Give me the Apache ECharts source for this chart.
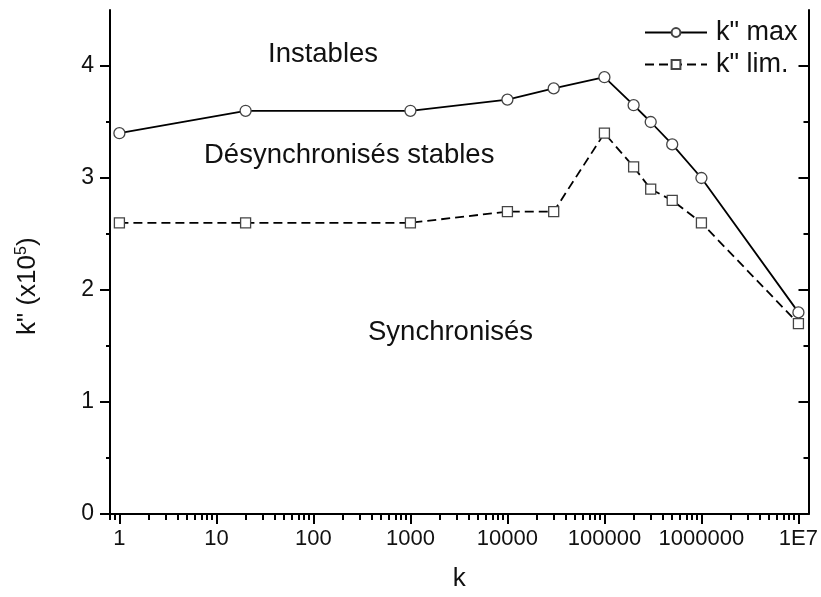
<!DOCTYPE html>
<html>
<head>
<meta charset="utf-8">
<script src="https://cdn.jsdelivr.net/npm/echarts@6/dist/echarts.min.js"></script>
<style>
  html, body { margin: 0; padding: 0; background: #fff; }
  #chart { width: 821px; height: 597px; }
</style>
</head>
<body>
<div id="chart"></div>
<script>
// k values (log scale) and the two k'' thresholds (units of 1e5)
const kValues = [1, 20, 1000, 10000, 30000, 100000, 200000, 300000, 500000, 1000000, 10000000];
const kMax    = [3.4, 3.6, 3.6, 3.7, 3.8, 3.9, 3.65, 3.5, 3.3, 3.0, 1.8];
const kLim    = [2.6, 2.6, 2.6, 2.7, 2.7, 3.4, 3.1, 2.9, 2.8, 2.6, 1.7];

// tick positions
const xMajorTicks = [1, 10, 100, 1000, 10000, 100000, 1000000, 10000000];
const xMinorTicks = [];
for (let d = -1; d <= 7; d++) {
  for (let m = 2; m <= 9; m++) {
    const v = m * Math.pow(10, d);
    if (v >= 0.8 && v <= 1.27e7) xMinorTicks.push(v);
  }
}
const yMajorTicks = [0, 1, 2, 3, 4];
const yMinorTicks = [0.5, 1.5, 2.5, 3.5];

const X_MIN = 0.8, X_MAX = 1.27e7, Y_MIN = 0, Y_MAX = 4.5;
const FONT = 'Liberation Sans, Arial, sans-serif';
const INK = '#000';

function xAxisDef(pos, ticks, len, inside, showLine, showLabel) {
  return {
    type: 'log', logBase: 10, position: pos, min: X_MIN, max: X_MAX,
    axisLine: { show: showLine, lineStyle: { color: INK, width: 2 } },
    axisTick: { show: true, customValues: ticks, length: len, inside: inside,
                lineStyle: { color: INK, width: 2 } },
    axisLabel: showLabel ? {
      customValues: xMajorTicks, margin: 14, color: '#111', fontFamily: FONT, fontSize: 22,
      formatter: v => { const r = Math.round(v); return r >= 1e7 ? '1E7' : String(r); }
    } : { show: false },
    splitLine: { show: false }, minorTick: { show: false }
  };
}
function yAxisDef(pos, ticks, len, inside, showLine, showLabel) {
  return {
    type: 'value', position: pos, min: Y_MIN, max: Y_MAX,
    axisLine: { show: showLine, lineStyle: { color: INK, width: 2 } },
    axisTick: { show: true, customValues: ticks, length: len, inside: inside,
                lineStyle: { color: INK, width: 2 } },
    axisLabel: showLabel ? {
      customValues: yMajorTicks, margin: 16, color: '#111', fontFamily: FONT, fontSize: 23
    } : { show: false },
    splitLine: { show: false }
  };
}

const chart = echarts.init(document.getElementById('chart'), null, { renderer: 'canvas' });

const option = {
  animation: false,
  backgroundColor: '#fff',
  grid: { left: 110, right: 8, top: 10, bottom: 81, containLabel: false },
  xAxis: [
    Object.assign(xAxisDef('bottom', xMajorTicks, 10, false, true, true), {
      name: 'k', nameLocation: 'middle', nameGap: 52,
      nameTextStyle: { color: '#111', fontFamily: FONT, fontSize: 26 }
    }),
    xAxisDef('bottom', xMinorTicks, 6, false, false, false),
    xAxisDef('top', xMajorTicks, 10, true, true, false),
    xAxisDef('top', xMinorTicks, 6, true, false, false)
  ],
  yAxis: [
    yAxisDef('left', yMajorTicks, 10, false, true, true),
    yAxisDef('left', yMinorTicks, 4, false, false, false),
    yAxisDef('right', yMajorTicks, 10, true, true, false),
    yAxisDef('right', yMinorTicks, 5, true, false, false)
  ],
  legend: {
    orient: 'vertical', left: 639, top: 14, itemWidth: 62, itemHeight: 11, itemGap: 5,
    textStyle: { color: '#111', fontFamily: FONT, fontSize: 27, padding: [0, 0, 0, 4] },
    data: ['k" max', 'k" lim.']
  },
  graphic: [
    { type: 'text', left: 268, top: 40, style: { text: 'Instables', fill: '#111', font: '27.5px ' + FONT } },
    { type: 'text', left: 204, top: 141, style: { text: 'Désynchronisés stables', fill: '#111', font: '27.5px ' + FONT } },
    { type: 'text', left: 368, top: 318, style: { text: 'Synchronisés', fill: '#111', font: '27.5px ' + FONT } },
    {
      type: 'text', x: 14, y: 335, rotation: Math.PI / 2,
      style: {
        text: 'k" (x10{sup|5})', fill: '#111', font: '26px ' + FONT,
        rich: { sup: { fontSize: 16, fontFamily: FONT, fill: '#111', verticalAlign: 'top', padding: [0, 0, 12, 0] } }
      }
    }
  ],
  series: [
    {
      name: 'k" max', type: 'line', xAxisIndex: 0, yAxisIndex: 0,
      data: kValues.map((k, i) => [k, kMax[i]]),
      symbol: 'circle', symbolSize: 11, showAllSymbol: true,
      lineStyle: { color: '#000', width: 1.8, type: 'solid' },
      itemStyle: { color: '#fff', borderColor: '#444', borderWidth: 1.3 }
    },
    {
      name: 'k" lim.', type: 'line', xAxisIndex: 0, yAxisIndex: 0,
      data: kValues.map((k, i) => [k, kLim[i]]),
      symbol: 'rect', symbolSize: 10, showAllSymbol: true,
      lineStyle: { color: '#000', width: 1.8, type: [9, 5] },
      itemStyle: { color: '#fff', borderColor: '#444', borderWidth: 1.3 }
    }
  ]
};
chart.setOption(option);
</script>
</body>
</html>
